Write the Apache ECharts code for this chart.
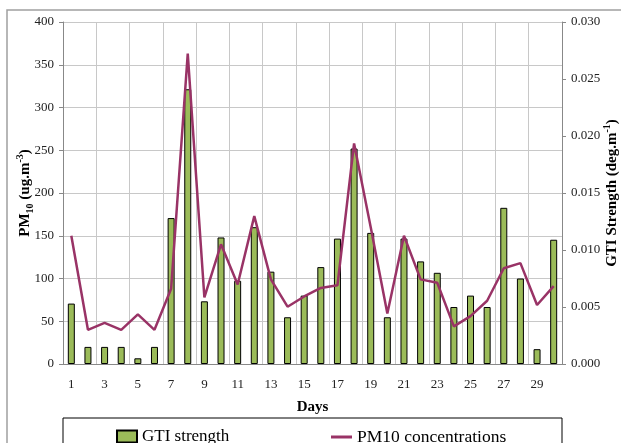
<!DOCTYPE html>
<html lang="en">
<head>
    <meta charset="UTF-8">
    <title>GTI strength and PM10</title>
    <script src="https://cdn.jsdelivr.net/npm/echarts@6.0.0/dist/echarts.min.js"></script>
    <style>
        html, body { margin: 0; padding: 0; background: #fff; }
    </style>
</head>
<body>
    <div id="main" style="width: 621px; height: 443px;"></div>

    <script>
        // days 1..30
        var days = [];
        for (var i = 1; i <= 30; i++) days.push(String(i));

        // GTI strength (deg.m-1), right axis
        var gtiValues = [0.0053, 0.0015, 0.0015, 0.0015, 0.0005, 0.0015, 0.0128, 0.0241, 0.0055, 0.0111,
                         0.0073, 0.0120, 0.0081, 0.0041, 0.0060, 0.0085, 0.0110, 0.0189, 0.0115, 0.0041,
                         0.0110, 0.0090, 0.0080, 0.0050, 0.0060, 0.0050, 0.0137, 0.0075, 0.0013, 0.0109];

        // PM10 concentrations (ug.m-3), left axis
        var pm10Values = [150, 40, 48, 40, 58, 40, 88, 363, 78, 140,
                          93, 173, 99, 67, 79, 89, 92, 258, 160, 59,
                          150, 99, 95, 44, 56, 74, 112, 118, 69, 91];

        var font = 'Liberation Serif';
        var chart = echarts.init(document.getElementById('main'));

        var option = {
            animation: false,
            textStyle: { fontFamily: font },
            grid: { left: 63, right: 59, top: 22, bottom: 79, outerBoundsMode: 'none', containLabel: false },
            graphic: [
                // outer chart frame
                { type: 'polyline', shape: { points: [[7, 460], [7, 10], [640, 10]] },
                  style: { stroke: '#a0a0a0', lineWidth: 1.5, fill: null } },
                // legend frame
                { type: 'rect', shape: { x: 63, y: 418, width: 499, height: 50 },
                  style: { stroke: '#000', lineWidth: 1, fill: null } }
            ],
            legend: [
                {
                    data: ['GTI strength'],
                    left: 111, top: 423,
                    icon: 'rect',
                    itemWidth: 20, itemHeight: 12,
                    textStyle: { fontFamily: font, fontSize: 17, color: '#000' }
                },
                {
                    data: ['PM10 concentrations'],
                    left: 326, top: 423,
                    icon: 'rect',
                    itemWidth: 21, itemHeight: 3,
                    textStyle: { fontFamily: font, fontSize: 17.5, color: '#000' }
                }
            ],
            xAxis: {
                type: 'category',
                data: days,
                boundaryGap: true,
                name: 'Days',
                nameLocation: 'middle',
                nameGap: 36,
                nameMoveOverlap: false,
                nameTextStyle: { fontFamily: font, fontSize: 15, fontWeight: 'bold', color: '#000' },
                axisLine: { lineStyle: { color: '#888' } },
                axisTick: { interval: 1, length: 4, lineStyle: { color: '#888' } },
                axisLabel: { interval: 1, margin: 14, fontSize: 13, color: '#222' },
                splitLine: { show: true, interval: 1, lineStyle: { color: '#c8c8c8' } }
            },
            yAxis: [
                {
                    type: 'value',
                    min: 0, max: 400, interval: 50,
                    name: '{b|PM}{s|10}{b| (ug.m}{p|-3}{b|)}',
                    nameLocation: 'middle',
                    nameRotate: 90,
                    nameGap: 28,
                    nameMoveOverlap: false,
                    nameTextStyle: {
                        rich: {
                            b: { fontFamily: font, fontSize: 15, fontWeight: 'bold', color: '#000', lineHeight: 20, verticalAlign: 'middle' },
                            s: { fontFamily: font, fontSize: 10, fontWeight: 'bold', color: '#000', lineHeight: 20, verticalAlign: 'bottom' },
                            p: { fontFamily: font, fontSize: 10, fontWeight: 'bold', color: '#000', lineHeight: 20, verticalAlign: 'top' }
                        }
                    },
                    axisLine: { show: true, lineStyle: { color: '#888' } },
                    axisTick: { show: true, length: 4, lineStyle: { color: '#888' } },
                    axisLabel: { margin: 9, fontSize: 13, color: '#222' },
                    splitLine: { lineStyle: { color: '#c8c8c8' } }
                },
                {
                    type: 'value',
                    min: 0, max: 0.03, interval: 0.005,
                    name: '{b|GTI Strength (deg.m}{p|-1}{b|)}',
                    nameLocation: 'middle',
                    nameRotate: 90,
                    nameGap: 40,
                    nameMoveOverlap: false,
                    nameTextStyle: {
                        rich: {
                            b: { fontFamily: font, fontSize: 15, fontWeight: 'bold', color: '#000', lineHeight: 20, verticalAlign: 'middle' },
                            p: { fontFamily: font, fontSize: 10, fontWeight: 'bold', color: '#000', lineHeight: 20, verticalAlign: 'top' }
                        }
                    },
                    axisLine: { show: true, lineStyle: { color: '#888' } },
                    axisTick: { show: true, length: 4, lineStyle: { color: '#888' } },
                    axisLabel: {
                        margin: 9, fontSize: 13, color: '#222',
                        formatter: function (v) { return v.toFixed(3); }
                    },
                    splitLine: { show: false }
                }
            ],
            series: [
                {
                    name: 'GTI strength',
                    type: 'bar',
                    yAxisIndex: 1,
                    data: gtiValues,
                    barWidth: 7,
                    itemStyle: { color: '#9bbb59', borderColor: '#000', borderWidth: 1 }
                },
                {
                    name: 'PM10 concentrations',
                    type: 'line',
                    yAxisIndex: 0,
                    data: pm10Values,
                    symbol: 'none',
                    lineStyle: { color: '#993366', width: 2.5 },
                    itemStyle: { color: '#993366' }
                }
            ]
        };

        chart.setOption(option);
    </script>
</body>
</html>
